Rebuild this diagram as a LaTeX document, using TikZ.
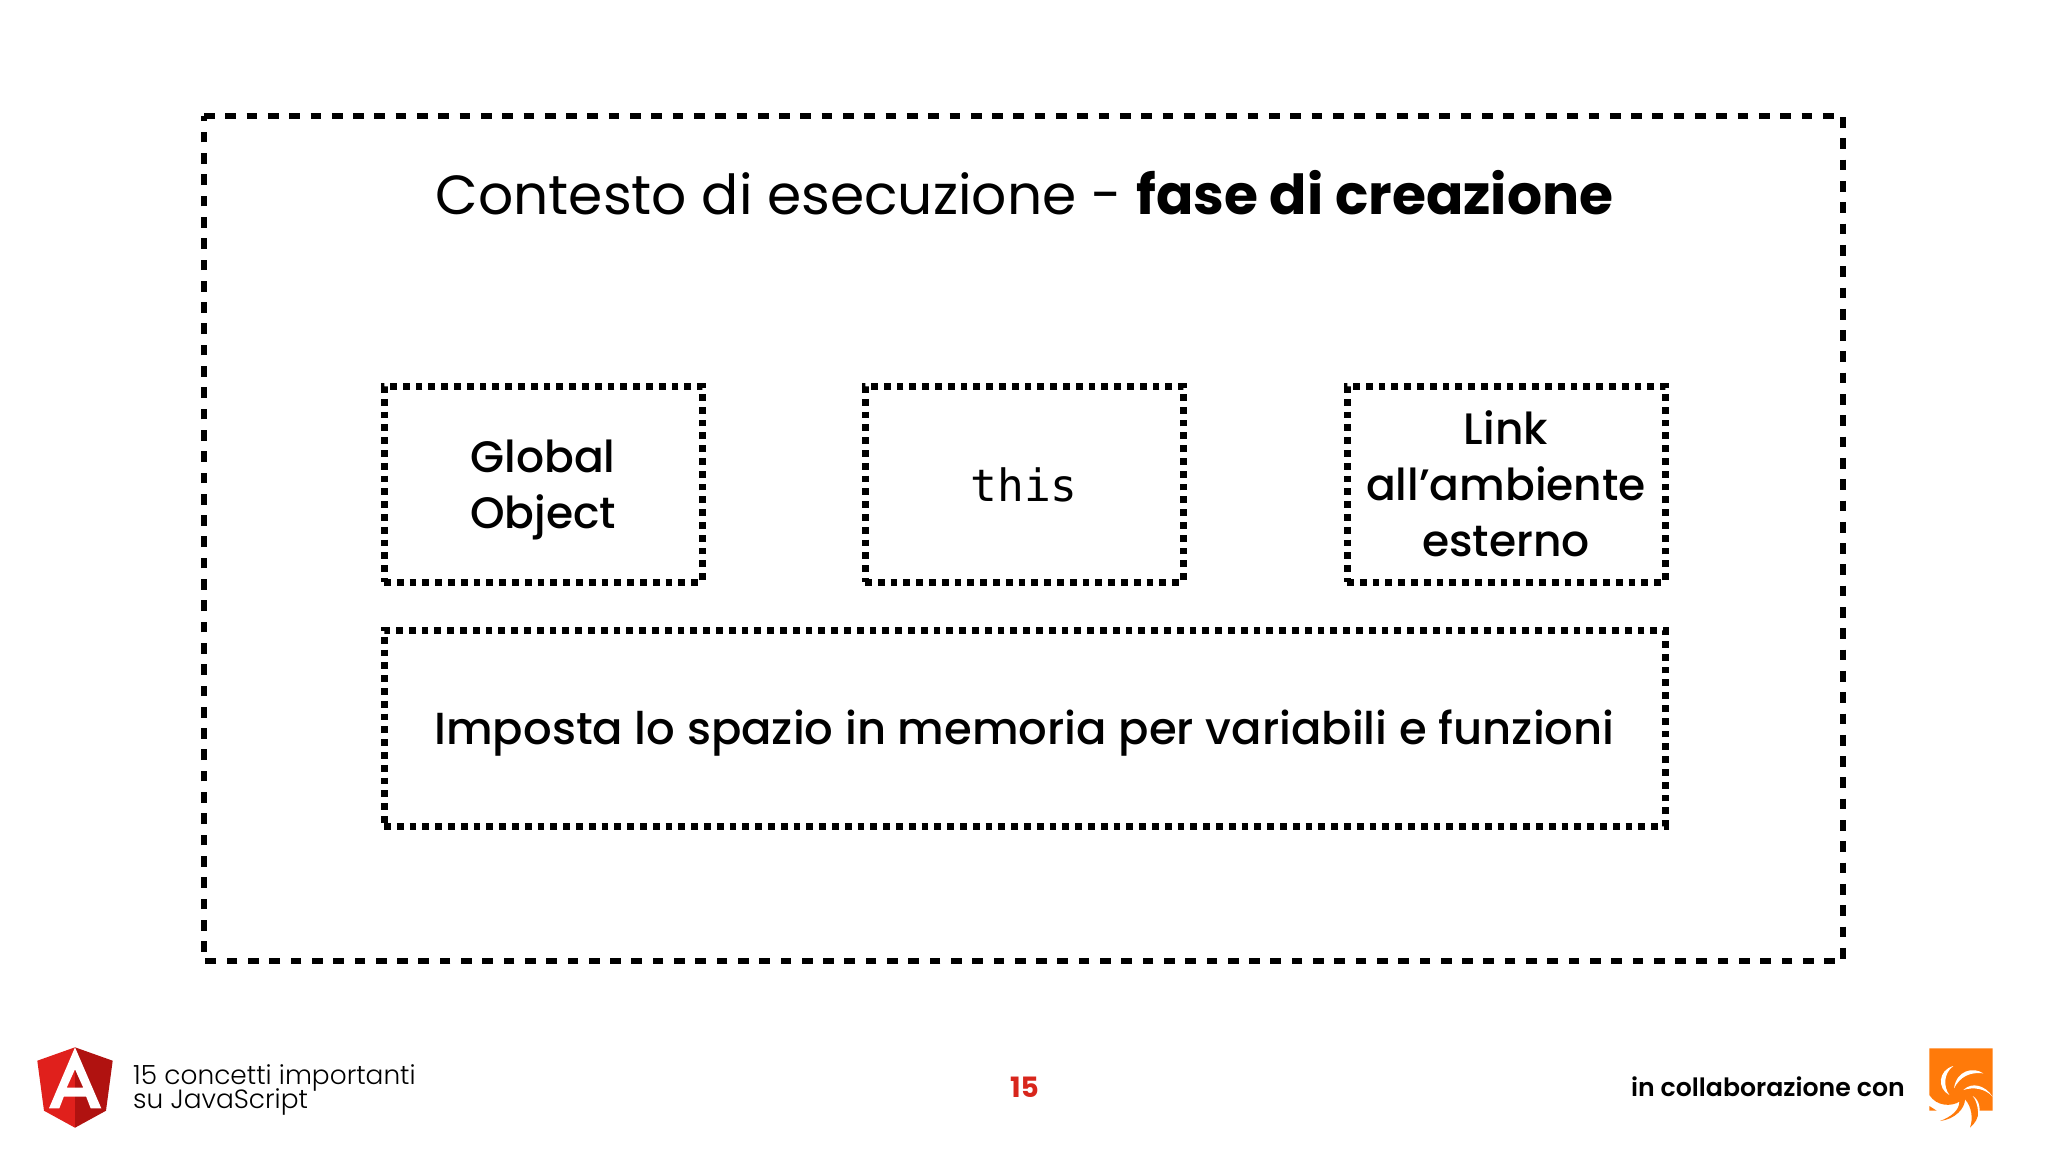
\documentclass[tikz,border=0pt]{standalone}
\usepackage{fontspec}
\setmainfont{Poppins}
\newfontfamily\medf{Poppins Medium}
\newfontfamily\semif{Poppins SemiBold}
\newfontfamily\lightf{Poppins Light}
\newfontfamily\monof{DejaVu Sans Mono}
\definecolor{numred}{HTML}{D8261C}
\definecolor{orlogo}{HTML}{FF7A0A}
\definecolor{angL}{HTML}{E0201C}
\definecolor{angR}{HTML}{B01210}
\tikzset{
  outerbox/.style={draw=black,line width=5.5pt,dash pattern=on 10.7pt off 10.6pt},
  dotbox/.style={draw=black,line width=7pt,dash pattern=on 6.8pt off 6pt},
  lab/.style={align=center,inner sep=0pt,font=\medf\fontsize{44}{56}\selectfont},
}
\begin{document}
\begin{tikzpicture}[x=1pt,y=-1pt]
\useasboundingbox (0,0) rectangle (2048,1152);
\fill[white] (0,0) rectangle (2048,1152);
\coordinate (oa) at (204,116); \coordinate (ob) at (1843,961);
\draw[outerbox] (oa) -| (ob) -| (oa);
\node[inner sep=0pt,font=\fontsize{55.1}{68}\selectfont] (title) at (1024.5,193) {Contesto di esecuzione - \textbf{fase di creazione}};
\node[dotbox,minimum width=318pt,minimum height=196pt,inner sep=0pt] (g) at (543,484) {};
\node[dotbox,minimum width=318pt,minimum height=196pt,inner sep=0pt] (t) at (1024,484) {};
\node[dotbox,minimum width=318pt,minimum height=196pt,inner sep=0pt] (l) at (1506,484) {};
\node[dotbox,minimum width=1281pt,minimum height=196pt,inner sep=0pt] (w) at (1024.5,728) {};
\node[lab] (gt) at ([yshift=-6pt]g) {Global\\Object};
\node[lab,font=\monof\fontsize{44.5}{56}\selectfont] (tt) at ([yshift=-1pt]t) {this};
\node[lab] (lt) at (l) {Link\\all’ambiente\\esterno};
\node[lab,font=\medf\fontsize{44.9}{56}\selectfont] (wt) at ([yshift=-5pt]w) {Imposta lo spazio in memoria per variabili e funzioni};
% footer left
\fill[angL] (75,1047.3) -- (37.3,1060.7) -- (44,1110.7) -- (75,1127.7) -- cycle;
\fill[angR] (75,1047.3) -- (112.7,1060.7) -- (106,1110.7) -- (75,1127.7) -- cycle;
\fill[white,even odd rule] (75,1047.3) -- (49,1108.3) -- (59.3,1108.3) -- (63.8,1096.7) -- (86.2,1096.7) -- (90.7,1108.3) -- (101.3,1108.3) -- cycle (75,1069.3) -- (66.7,1087.7) -- (83.3,1087.7) -- cycle;
\node[anchor=west,inner sep=0pt,align=left,font=\lightf\fontsize{26.4}{26}\selectfont] (ft) at (133,1090) {15 concetti importanti\\[-3pt]su JavaScript};
\node[inner sep=0pt,font=\bfseries\fontsize{28}{30}\selectfont,text=numred] (pg) at (1024.5,1087) {15};
\node[anchor=east,inner sep=0pt,font=\semif\fontsize{25.2}{30}\selectfont] (co) at (1905,1087) {in collaborazione con};
% swirl logo
\begin{scope}[shift={(1920,1040)},x=0.3333pt,y=-0.3333pt]
\fill[orlogo] (28,25) -- (218,25) -- (218,212) -- (176,212) .. controls (175,235) and (165,250) .. (150,263) .. controls (160,235) and (155,200) .. (135,178) .. controls (135,205) and (105,238) .. (60,243) .. controls (95,230) and (118,210) .. (118,185) .. controls (95,200) and (50,200) .. (28,165) -- cycle;
\fill[orlogo] (28,198) -- (50,212) -- (28,212) -- cycle;
\fill[white] (100,78) .. controls (55,90) and (50,145) .. (88,165) .. controls (70,140) and (70,100) .. (100,78) -- cycle;
\fill[white] (190,100) .. controls (160,80) and (110,90) .. (102,145) .. controls (120,110) and (150,95) .. (190,100) -- cycle;
\fill[white] (218,170) .. controls (195,135) and (155,125) .. (130,150) .. controls (160,140) and (195,145) .. (218,170) -- cycle;
\fill[white] (158,168) .. controls (180,180) and (185,215) .. (172,245) .. controls (178,215) and (172,185) .. (158,168) -- cycle;
\end{scope}
\end{tikzpicture}
\end{document}
